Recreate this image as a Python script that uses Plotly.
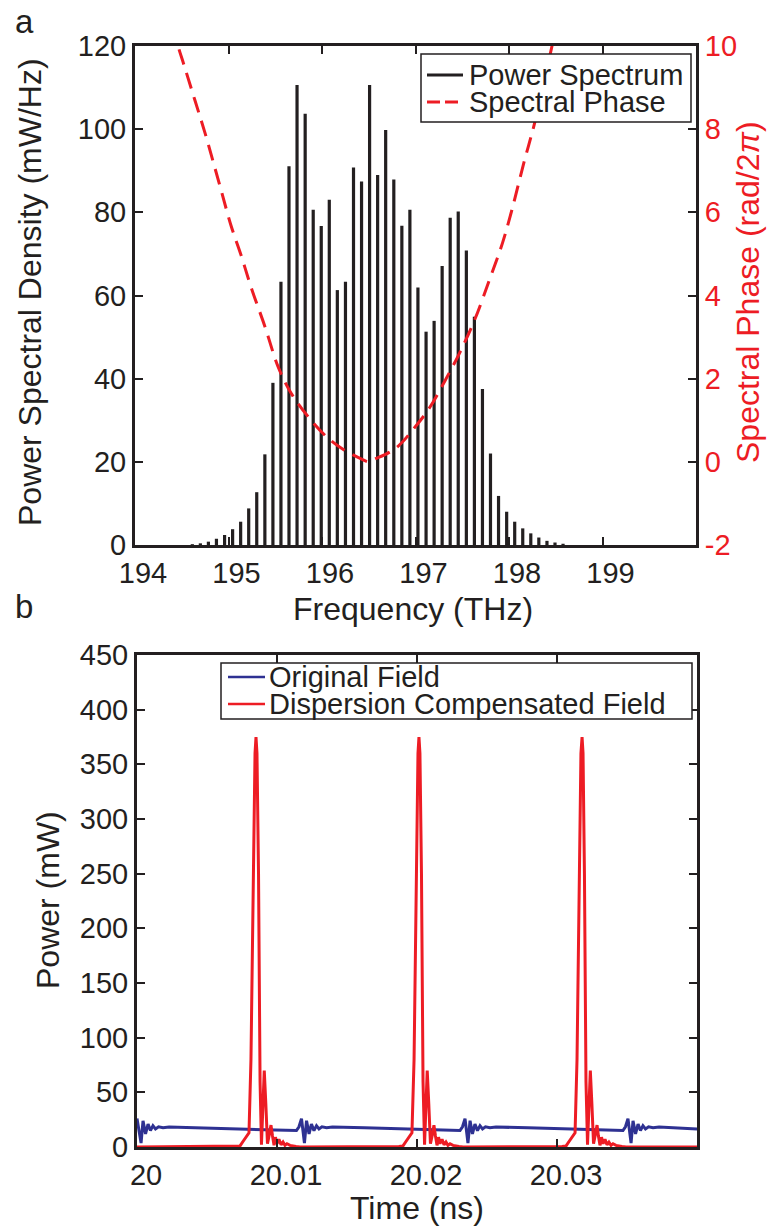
import plotly.graph_objects as go

# ---------------- data ----------------
# comb lines: frequency (THz) and power spectral density (mW/Hz)
comb_freq_thz = [194.613, 194.699, 194.785, 194.871, 194.958, 195.044, 195.130, 195.216,
                 195.302, 195.389, 195.475, 195.561, 195.647, 195.733, 195.820, 195.906,
                 195.992, 196.078, 196.164, 196.251, 196.337, 196.423, 196.509, 196.595,
                 196.681, 196.768, 196.854, 196.940, 197.026, 197.113, 197.199, 197.285,
                 197.371, 197.457, 197.544, 197.630, 197.716, 197.802, 197.888, 197.975,
                 198.061, 198.147, 198.233, 198.319, 198.406, 198.492, 198.578]
comb_psd = [0.2, 0.4, 0.8, 1.5, 2.4, 3.8, 5.6, 8.8,
            12.7, 21.8, 39.0, 63.3, 91.1, 110.6, 103.7, 80.6,
            76.7, 83.0, 61.3, 63.3, 90.8, 87.4, 110.6, 89.0,
            99.8, 87.9, 76.8, 80.6, 61.9, 51.3, 53.9, 67.1,
            78.7, 80.2, 70.8, 54.9, 37.5, 22.0, 11.8, 8.0,
            5.6, 4.0, 2.8, 1.8, 1.0, 0.6, 0.3]

# spectral phase (rad/2pi)
phase_freq_thz = [194.40, 194.46, 194.53, 194.64, 194.75, 194.91, 195.03, 195.14, 195.24,
                  195.39, 195.53, 195.67, 195.85, 196.06, 196.24, 196.43, 196.50, 196.56,
                  196.79, 197.00, 197.15, 197.32, 197.47, 197.63, 197.79, 197.93, 198.03,
                  198.16, 198.28, 198.46, 198.50]
phase_rad2pi = [10.5, 10.0, 9.5, 8.7, 7.9, 6.62, 5.66, 4.93, 4.21,
                3.25, 2.29, 1.65, 1.09, 0.58, 0.28, 0.06, 0.0, 0.06,
                0.33, 0.85, 1.3, 1.97, 2.61, 3.4, 4.37, 5.26, 6.05,
                7.2, 8.2, 10.0, 10.4]

# original field (blue), time in ns, power in mW
orig_t_ns = [20.00000, 20.00029, 20.00043, 20.00061, 20.00079, 20.00096, 20.00114, 20.00132,
             20.00154, 20.00186, 20.00229, 20.00457, 20.00743, 20.01029,
             20.01139, 20.01157, 20.01175, 20.01196, 20.01211, 20.01229, 20.01246, 20.01264,
             20.01282, 20.01300, 20.01321, 20.01354, 20.01396, 20.01625, 20.01911, 20.02196,
             20.02307, 20.02325, 20.02343, 20.02364, 20.02379, 20.02396, 20.02414, 20.02432,
             20.02450, 20.02468, 20.02489, 20.02521, 20.02564, 20.02793, 20.03079, 20.03364,
             20.03471, 20.03489, 20.03507, 20.03529, 20.03543, 20.03561, 20.03579, 20.03596,
             20.03614, 20.03632, 20.03654, 20.03686, 20.03729, 20.04000]
orig_p_mw = [26.0, 3.6, 24.0, 12.0, 21.0, 15.0, 19.5, 16.5,
             18.5, 17.6, 18.3, 17.5, 16.3, 15.2,
             15.0, 18.5, 26.0, 3.6, 24.0, 12.0, 21.0, 15.0,
             19.5, 16.5, 18.5, 17.6, 18.3, 17.5, 16.3, 15.2,
             15.0, 18.5, 26.0, 3.6, 24.0, 12.0, 21.0, 15.0,
             19.5, 16.5, 18.5, 17.6, 18.3, 17.5, 16.3, 15.2,
             15.0, 18.5, 26.0, 3.6, 24.0, 12.0, 21.0, 15.0,
             19.5, 16.5, 18.5, 17.6, 18.3, 16.5]

# dispersion compensated field (red): three pulses
pulse1_t_ns = [20.00707, 20.00736, 20.00757, 20.00786, 20.00800, 20.00814, 20.00829, 20.00843,
               20.00850, 20.00857, 20.00868, 20.00879, 20.00889, 20.00900, 20.00909, 20.00920,
               20.00932, 20.00946, 20.00957, 20.00968, 20.00979, 20.00989, 20.01000, 20.01014,
               20.01029, 20.01043, 20.01057, 20.01071, 20.01093, 20.01136, 20.01164]
pulse2_t_ns = [20.01871, 20.01900, 20.01921, 20.01950, 20.01964, 20.01979, 20.01993, 20.02007,
               20.02014, 20.02021, 20.02032, 20.02043, 20.02054, 20.02064, 20.02073, 20.02084,
               20.02096, 20.02111, 20.02121, 20.02132, 20.02143, 20.02154, 20.02164, 20.02179,
               20.02193, 20.02207, 20.02221, 20.02236, 20.02257, 20.02300, 20.02329]
pulse3_t_ns = [20.03036, 20.03065, 20.03086, 20.03114, 20.03129, 20.03143, 20.03157, 20.03171,
               20.03179, 20.03186, 20.03196, 20.03207, 20.03218, 20.03229, 20.03238, 20.03249,
               20.03261, 20.03275, 20.03286, 20.03296, 20.03307, 20.03318, 20.03329, 20.03343,
               20.03357, 20.03371, 20.03386, 20.03400, 20.03421, 20.03464, 20.03493]
pulse_p_mw = [0.5, 1.0, 5.0, 10.0, 13.0, 80.0, 250.0, 360.0,
              375.0, 360.0, 250.0, 60.0, 2.0, 40.0, 70.0, 40.0,
              3.0, 12.0, 20.0, 10.0, 1.5, 9.0, 3.0, 7.0,
              2.0, 4.5, 1.5, 3.0, 1.5, 0.5, 0.0]

freq_ticks = [194, 195, 196, 197, 198, 199]
phase_ticks = [-2, 0, 2, 4, 6, 8, 10]
phase_tick_labels = ["-2", "0", "2", "4", "6", "8", "10"]
time_ticks = [20, 20.01, 20.02, 20.03]
time_tick_labels = ["20", "20.01", "20.02", "20.03"]
legend_top = ["Power Spectrum", "Spectral Phase"]
legend_bottom = ["Original Field", "Dispersion Compensated Field"]

# ---------------- styling ----------------
W, H = 777, 1232
INK = "#231F20"
RED = "#ED1C24"
BLUE = "#2E3192"
FONT = "Liberation Sans, Arial, Helvetica, sans-serif"


def px(x):
    return x / W


def py(y):
    return 1 - y / H


stem_x, stem_y = [], []
for f, p in zip(comb_freq_thz, comb_psd):
    stem_x += [f, f, None]
    stem_y += [0, p, None]

red_t = [20.0] + pulse1_t_ns + pulse2_t_ns + pulse3_t_ns + [20.04]
red_p = [0.0] + pulse_p_mw + pulse_p_mw + pulse_p_mw + [0.0]

fig = go.Figure()
fig.add_trace(go.Scatter(x=stem_x, y=stem_y, mode="lines", name=legend_top[0],
                         line=dict(color=INK, width=3.2), xaxis="x", yaxis="y",
                         showlegend=False))
fig.add_trace(go.Scatter(x=phase_freq_thz, y=phase_rad2pi, mode="lines", name=legend_top[1],
                         line=dict(color=RED, width=3, dash="16px,9px", shape="spline"),
                         xaxis="x", yaxis="y2", showlegend=False))
fig.add_trace(go.Scatter(x=orig_t_ns, y=orig_p_mw, mode="lines", name=legend_bottom[0],
                         line=dict(color=BLUE, width=3), xaxis="x2", yaxis="y3",
                         showlegend=False))
fig.add_trace(go.Scatter(x=red_t, y=red_p, mode="lines", name=legend_bottom[1],
                         line=dict(color=RED, width=3), xaxis="x2", yaxis="y3",
                         showlegend=False))

axis_common = dict(showgrid=False, zeroline=False, showline=True, linecolor=INK, linewidth=3,
                   ticks="inside", ticklen=8, tickwidth=2, tickcolor=INK, automargin=False,
                   tickfont=dict(family=FONT, size=29, color=INK))

fig.update_layout(
    template="none",
    width=W, height=H, margin=dict(l=0, r=0, t=0, b=0, pad=0),
    paper_bgcolor="white", plot_bgcolor="white", showlegend=False,
    font=dict(family=FONT, color=INK),
    xaxis=dict(domain=[px(135), px(696)], anchor="y", range=[194, 200], tickvals=freq_ticks,
               mirror="ticks", ticklabelshift=8, **axis_common),
    yaxis=dict(domain=[py(545), py(46)], anchor="x", range=[0, 120], dtick=20, **axis_common),
    yaxis2=dict(overlaying="y", anchor="x", side="right", range=[-2, 10], tickvals=phase_ticks,
                ticktext=phase_tick_labels,
                **{**axis_common, "tickfont": dict(family=FONT, size=29, color=RED)}),
    xaxis2=dict(domain=[px(137), px(697)], anchor="y3", range=[20, 20.04], tickvals=time_ticks,
                ticktext=time_tick_labels, mirror="ticks", ticklabelshift=9, **axis_common),
    yaxis3=dict(domain=[py(1147), py(655)], anchor="x2", range=[0, 450], dtick=50,
                mirror="ticks", **axis_common),
)

ann = []


def text(t, x, y, size=32, color=INK, angle=0, xanchor="center", yanchor="middle"):
    ann.append(dict(text=t, x=px(x), y=py(y), xref="paper", yref="paper", showarrow=False,
                    xanchor=xanchor, yanchor=yanchor, textangle=angle, align="left",
                    font=dict(family=FONT, size=size, color=color)))


text("Power Spectral Density (mW/Hz)", 30, 292, angle=-90)
text("Spectral Phase (rad/2<i>π</i>)", 748, 292, color=RED, angle=-90)
text("Frequency (THz)", 413, 609)
text("Power (mW)", 48, 900, angle=-90)
text("Time (ns)", 417, 1208)
text("a", 24, 1, size=33, yanchor="top")
text("b", 24, 586, size=33, yanchor="top")


# two-row legends: one text block, base size gives the 27 px row pitch of the reference
def legend_block(rows):
    return "<br>".join('<span style="font-size:29px">%s</span>' % r for r in rows)


text(legend_block(legend_top), 467, 88.5, size=21, xanchor="left")
text(legend_block(legend_bottom), 267, 690.5, size=21, xanchor="left")
fig.update_layout(annotations=ann)

shapes = [
    dict(type="rect", xref="paper", yref="paper", x0=px(421), x1=px(691), y0=py(122), y1=py(54),
         line=dict(color=INK, width=1.5), fillcolor="white", layer="above"),
    dict(type="line", xref="paper", yref="paper", x0=px(427), x1=px(463), y0=py(75), y1=py(75),
         line=dict(color=INK, width=3), layer="above"),
    dict(type="line", xref="paper", yref="paper", x0=px(427), x1=px(463), y0=py(102), y1=py(102),
         line=dict(color=RED, width=3, dash="13px,5px"), layer="above"),
    dict(type="rect", xref="paper", yref="paper", x0=px(221), x1=px(692), y0=py(719), y1=py(663),
         line=dict(color=INK, width=1.5), fillcolor="white", layer="above"),
    dict(type="line", xref="paper", yref="paper", x0=px(228), x1=px(265), y0=py(677), y1=py(677),
         line=dict(color=BLUE, width=2.5), layer="above"),
    dict(type="line", xref="paper", yref="paper", x0=px(228), x1=px(265), y0=py(704), y1=py(704),
         line=dict(color=RED, width=2.5), layer="above"),
]
fig.update_layout(shapes=shapes)

fig.write_html("out.html")
